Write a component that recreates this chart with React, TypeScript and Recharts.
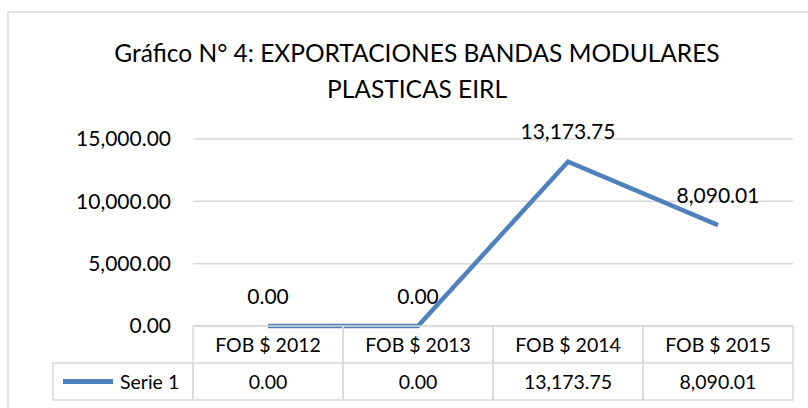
import { CartesianGrid, LabelList, Line, LineChart, XAxis, YAxis } from "recharts";

const categories = ["FOB $ 2012", "FOB $ 2013", "FOB $ 2014", "FOB $ 2015"];
const serie1 = [0, 0, 13173.75, 8090.01];
const seriesName = "Serie 1";
const yTicks = [0, 5000, 10000, 15000];
const titleLines = ["Gráfico N° 4: EXPORTACIONES BANDAS MODULARES", "PLASTICAS EIRL"];

const data = categories.map((c, i) => ({ name: c, value: serie1[i] }));

const W = 808;
const H = 408;
const LEFT = 193;
const RIGHT = 15;
const TOP = 139;
const TABLE_H = 82;
const ROW_H = 37;
const BAND = (W - LEFT - RIGHT) / categories.length;
const FONT = "Lato, 'Open Sans', sans-serif";
const BLUE = "#4f81bd";
const GRID = "#d9d9d9";

const fmt = (v: number) =>
  v.toLocaleString("en-US", { minimumFractionDigits: 2, maximumFractionDigits: 2 });

// draws one column of the data table under the plot, plus the legend cell for the first one
function TableTick(props: any) {
  const { x, index } = props;
  const top = H - TABLE_H;
  const left = x - BAND / 2;
  return (
    <g>
      <rect x={left} y={top} width={BAND} height={ROW_H * 2} fill="none" stroke={GRID} strokeWidth={1.5} />
      <line x1={left} x2={left + BAND} y1={top + ROW_H} y2={top + ROW_H} stroke={GRID} strokeWidth={1.5} />
      <text x={x} y={top + ROW_H / 2} textAnchor="middle" dominantBaseline="central" fontSize={19.5} fontFamily={FONT} fill="#000">
        {categories[index]}
      </text>
      <text x={x} y={top + ROW_H * 1.5} textAnchor="middle" dominantBaseline="central" fontSize={19.5} fontFamily={FONT} fill="#000">
        {fmt(serie1[index])}
      </text>
      {index === 0 && (
        <g>
          <rect x={left - 140} y={top + ROW_H} width={140} height={ROW_H} fill="none" stroke={GRID} strokeWidth={1.5} />
          <line x1={left - 130} x2={left - 80} y1={top + ROW_H * 1.5} y2={top + ROW_H * 1.5} stroke={BLUE} strokeWidth={5} />
          <text x={left - 73} y={top + ROW_H * 1.5} dominantBaseline="central" fontSize={19.5} fontFamily={FONT} fill="#000">
            {seriesName}
          </text>
        </g>
      )}
    </g>
  );
}

function ValueLabel(props: any) {
  const { x, y, value } = props;
  return (
    <text x={x} y={y - 31} textAnchor="middle" dominantBaseline="central" fontSize={21} fontFamily={FONT} fill="#000">
      {fmt(value)}
    </text>
  );
}

export default function App() {
  return (
    <div style={{ position: "absolute", left: 0, top: 0, width: W, height: H, background: "#fff" }}>
      <svg width={W} height={H} style={{ position: "absolute", left: 0, top: 0 }}>
        <rect x={8} y={12} width={W} height={H} fill="#fff" stroke={GRID} strokeWidth={1.5} />
        {titleLines.map((t, i) => (
          <text key={t} x={417} y={52 + i * 36} textAnchor="middle" dominantBaseline="central" fontSize={24.5} fontFamily={FONT} fill="#000">
            {t}
          </text>
        ))}
      </svg>
      <div style={{ position: "absolute", left: 0, top: 0 }}>
        <LineChart width={W} height={H} data={data} margin={{ top: TOP, right: RIGHT, bottom: 0, left: 0 }}>
          <CartesianGrid vertical={false} stroke={GRID} strokeWidth={1.5} />
          <XAxis
            dataKey="name"
            height={TABLE_H}
            axisLine={false}
            tickLine={false}
            interval={0}
            padding={{ left: BAND / 2, right: BAND / 2 }}
            tick={<TableTick />}
          />
          <YAxis
            width={LEFT}
            domain={[0, 15000]}
            ticks={yTicks}
            axisLine={false}
            tickLine={false}
            tickFormatter={fmt}
            tick={{ fontSize: 21, fontFamily: FONT, fill: "#000" }}
            dx={-14}
          />
          <Line
            type="linear"
            dataKey="value"
            stroke={BLUE}
            strokeWidth={4.5}
            dot={false}
            isAnimationActive={false}
          >
            <LabelList dataKey="value" content={<ValueLabel />} />
          </Line>
        </LineChart>
      </div>
    </div>
  );
}
